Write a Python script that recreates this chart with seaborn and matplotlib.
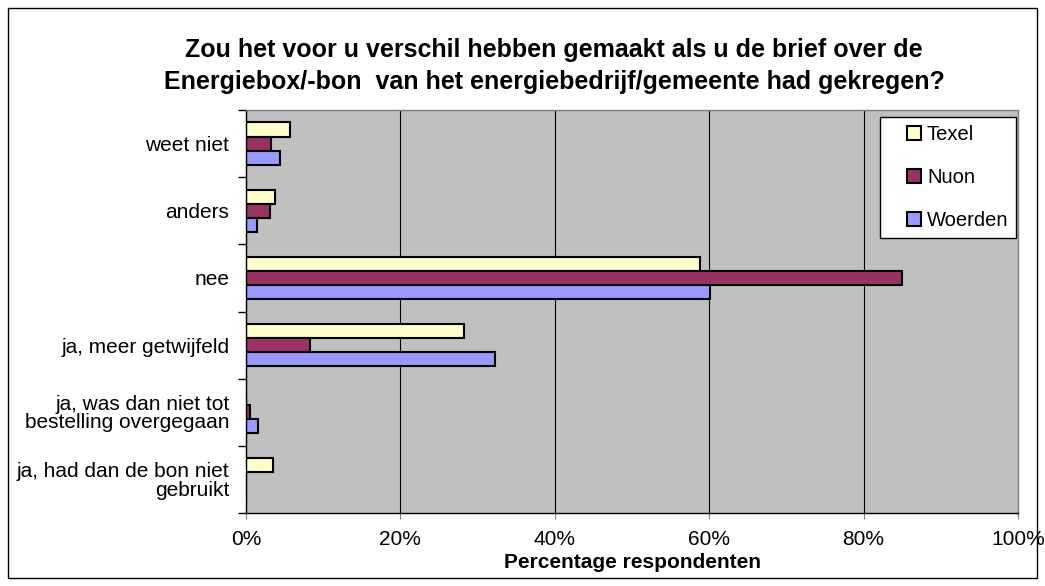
import numpy as np
import pandas as pd
import matplotlib
matplotlib.use("Agg")
import matplotlib.pyplot as plt
from matplotlib.lines import Line2D
from matplotlib.patches import Rectangle
from matplotlib.ticker import FixedLocator
import seaborn as sns

categories = ["weet niet", "anders", "nee", "ja, meer getwijfeld",
              "ja, was dan niet tot\nbestelling overgegaan",
              "ja, had dan de bon niet\ngebruikt"]
series = ["Texel", "Nuon", "Woerden"]
texel = [5.7, 3.8, 58.8, 28.2, 0.0, 3.5]
nuon = [3.2, 3.1, 85.0, 8.3, 0.5, 0.0]
woerden = [4.4, 1.4, 60.1, 32.3, 1.5, 0.0]
colors = ["#FFFFCC", "#993366", "#9999FF"]

df = pd.DataFrame({
    "categorie": categories * 3,
    "reeks": np.repeat(series, len(categories)),
    "waarde": texel + nuon + woerden,
})

sns.set_style("white")
plt.rcParams["font.family"] = ["Liberation Sans", "DejaVu Sans"]
for k in ["text.color", "axes.labelcolor", "xtick.color", "ytick.color"]:
    plt.rcParams[k] = "black"

fig = plt.figure(figsize=(10.45, 5.86), dpi=100)
ax = fig.add_axes([246 / 1045, 1 - 513 / 586, 772 / 1045, 403 / 586])

sns.barplot(data=df, x="waarde", y="categorie", hue="reeks", order=categories,
            hue_order=series, palette=colors, saturation=1, orient="h", width=0.63,
            edgecolor="black", linewidth=1.5, ax=ax, legend=False)

ax.set_facecolor("#C0C0C0")
ax.set_xlim(0, 100)
ax.set_ylim(len(categories) - 0.5, -0.5)
ax.set_xticks(range(0, 101, 20))
ax.set_xticklabels([f"{v}%" for v in range(0, 101, 20)], fontsize=15)
ax.xaxis.grid(True, color="black", linewidth=0.8)
ax.set_axisbelow(True)
ax.tick_params(axis="y", which="major", left=False, length=0, labelsize=15, pad=12)
for lbl in ax.get_yticklabels():
    lbl.set_linespacing(0.95)
ax.tick_params(axis="x", which="major", bottom=True, length=4, width=0.8,
               color="#808080", pad=8)
ax.yaxis.set_minor_locator(FixedLocator(np.arange(-0.5, len(categories), 1)))
ax.tick_params(axis="y", which="minor", left=True, length=6, width=1,
               color="black", direction="out")
for s in ax.spines.values():
    s.set_color("#808080")
    s.set_linewidth(1)
ax.spines["left"].set_color("black")
ax.spines["bottom"].set_color("black")
ax.set_ylabel("")
ax.set_xlabel("Percentage respondenten", fontsize=15, fontweight="bold", labelpad=3)

fig.text(554 / 1045, 1 - 66 / 586,
         "Zou het voor u verschil hebben gemaakt als u de brief over de\n"
         "Energiebox/-bon  van het energiebedrijf/gemeente had gekregen?",
         ha="center", va="center", fontsize=18, fontweight="bold", linespacing=1.42)

handles = [Line2D([], [], linestyle="none", marker="s", markersize=10,
                  markerfacecolor=c, markeredgecolor="black", markeredgewidth=1.5)
           for c in colors]
leg = ax.legend(handles, series, loc="upper right", bbox_to_anchor=(0.998, 0.983),
                fontsize=14.5, frameon=True, fancybox=False, edgecolor="black",
                facecolor="white", framealpha=1,
                handlelength=2.6, handletextpad=-0.65,
                labelspacing=1.2, borderpad=0.4, borderaxespad=0)
leg.get_frame().set_linewidth(1)

fig.patches.append(Rectangle((8 / 1045, 8 / 586), 1 - 16 / 1045, 1 - 16 / 586,
                             transform=fig.transFigure, fill=False,
                             edgecolor="black", linewidth=1))

fig.savefig("out.png", dpi=100)
